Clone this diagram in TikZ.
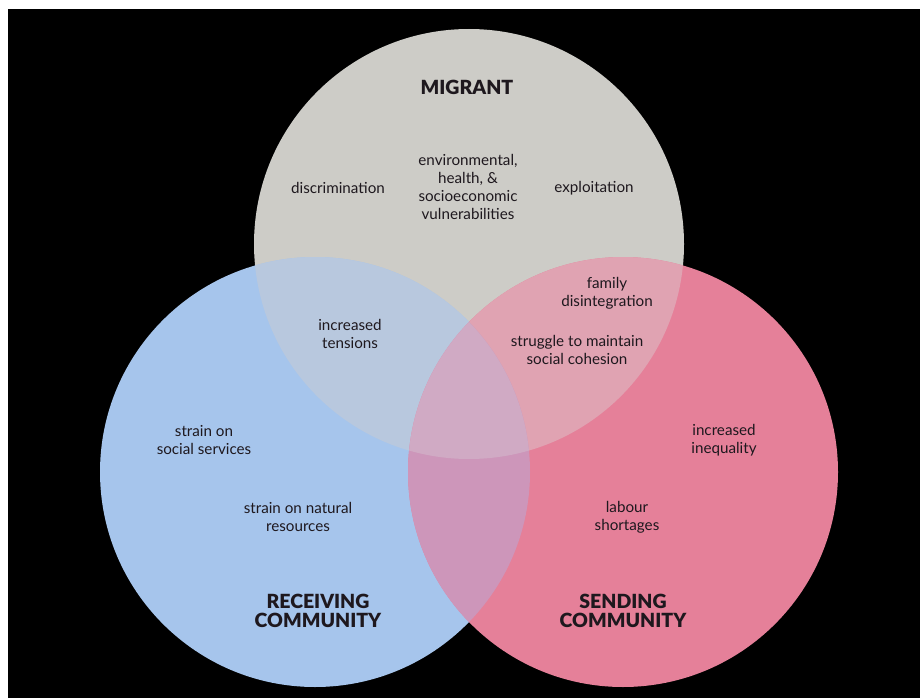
\documentclass[tikz,border=0pt]{standalone}
\usepackage{fontspec}
\setmainfont{Lato}
\newfontfamily\heavyfont{Lato Black}
\usepackage{tikz}
\usetikzlibrary{positioning}

\definecolor{migrantgrey}{RGB}{205,204,199}
\definecolor{receivingblue}{RGB}{166,197,236}
\definecolor{sendingpink}{RGB}{229,128,153}
\definecolor{greyblue}{RGB}{184,200,222}
\definecolor{greypink}{RGB}{224,163,178}
\definecolor{bluepink}{RGB}{205,150,186}
\definecolor{allthree}{RGB}{208,170,196}
\definecolor{labelink}{RGB}{30,24,30}

\newcommand{\venrad}{215pt}

\begin{document}
\begin{tikzpicture}[
  x=1pt, y=-1pt,
  set/.style={circle, minimum size=430pt, inner sep=0pt},
  item/.style={align=center, text=labelink, inner sep=0pt,
               font=\fontsize{15.2}{18}\selectfont},
  settitle/.style={align=center, text=labelink, inner sep=0pt,
                   font=\fontsize{19.5}{19}\selectfont\heavyfont},
]

% page and dark panel
\fill[white] (0,0) rectangle (920,698);
\fill[black] (8,9) rectangle (920,698);
\useasboundingbox (0,0) rectangle (920,698);

% the three sets
\node[set, fill=migrantgrey]   (migrant)   at (469,244) {};
\node[set, fill=receivingblue] (receiving) at (315,472) {};
\node[set, fill=sendingpink]   (sending)   at (623,472) {};

% overlaps
\begin{scope}
  \clip (migrant.center) circle[radius=\venrad];
  \fill[greyblue] (receiving.center) circle[radius=\venrad];
  \fill[greypink] (sending.center) circle[radius=\venrad];
\end{scope}
\begin{scope}
  \clip (receiving.center) circle[radius=\venrad];
  \fill[bluepink] (sending.center) circle[radius=\venrad];
  \clip (sending.center) circle[radius=\venrad];
  \fill[allthree] (migrant.center) circle[radius=\venrad];
\end{scope}

% titles
\node[settitle] (migranttitle)   at (467,87)  {MIGRANT};
\node[settitle] (receivingtitle) at (318,611) {RECEIVING\\COMMUNITY};
\node[settitle] (sendingtitle)   at (623,611) {SENDING\\COMMUNITY};

% migrant only
\node[item] (discrim) at (338,188) {discrimination};
\node[item] (vulner)  at (468,187) {environmental,\\health, \&\\socioeconomic\\vulnerabilities};
\node[item] (exploit) at (594,188) {exploitation};

% shared
\node[item] (tensions) at (350,334) {increased\\tensions};
\node[item] (family)   at (607,293) {family\\disintegration};
\node[item] (cohesion) at (577,350) {struggle to maintain\\social cohesion};

% receiving only
\node[item] (services)  at (204,440) {strain on\\social services};
\node[item] (resources) at (298,517) {strain on natural\\resources};

% sending only
\node[item] (inequal)  at (724,440) {increased\\inequality};
\node[item] (shortage) at (627,517) {labour\\shortages};

\end{tikzpicture}
\end{document}
